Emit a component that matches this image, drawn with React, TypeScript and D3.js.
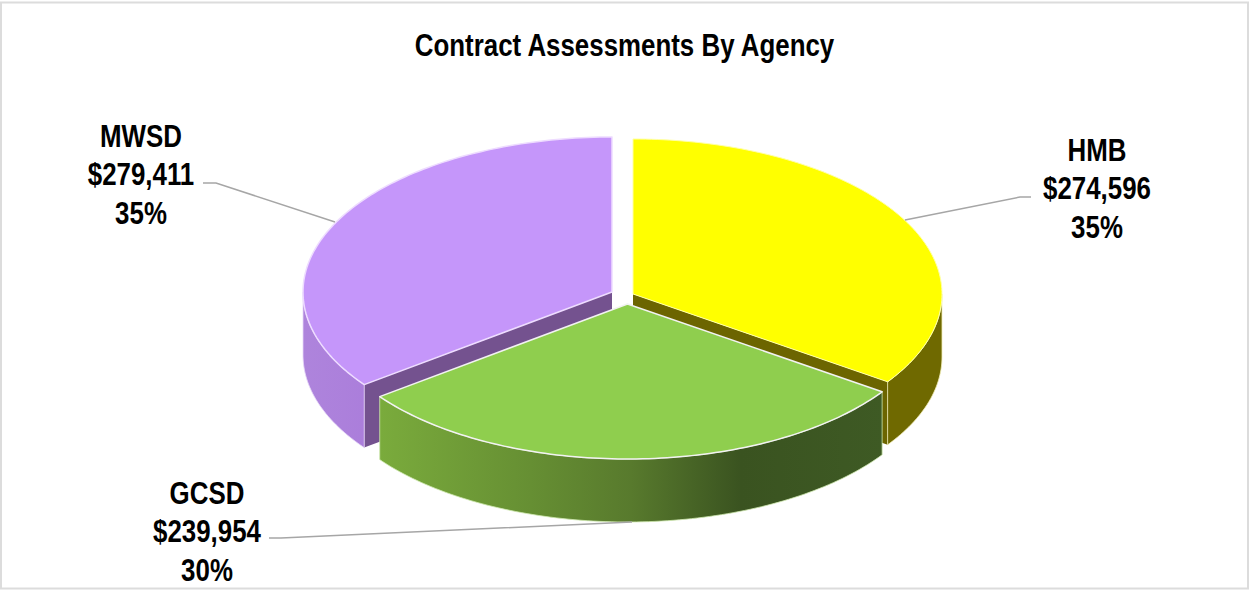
import React from "react";
import * as d3 from "d3";

const agencies = ["HMB", "GCSD", "MWSD"];
const assessments = [274596, 239954, 279411];
const amountLabels = ["$274,596", "$239,954", "$279,411"];
const percentLabels = ["35%", "30%", "35%"];

const W = 1250;
const H = 591;
const RX = 309;
const RY = 155;
const DEPTH = 63;
const FONT = "'Liberation Sans', Arial, sans-serif";
const FONT_SIZE = 31;
const NARROW = 0.835;

// Centre of each exploded wedge, in draw-space.
const wedgeCentres: Record<string, [number, number]> = {
  HMB: [633, 294],
  GCSD: [627.5, 304],
  MWSD: [612, 292],
};

const topFill: Record<string, string> = { HMB: "#ffff00", GCSD: "#8fce4e", MWSD: "#c596fa" };
const innerFill: Record<string, string> = { HMB: "#6c6500", GCSD: "#3e5a24", MWSD: "#74528f" };

// Leader lines: [label side start, elbow, wedge end]
const leaders: Record<string, [number, number][]> = {
  HMB: [[1031, 197], [1020, 197], [905, 220]],
  GCSD: [[269, 538], [281, 538], [632, 522]],
  MWSD: [[203, 183], [216, 183], [335, 222]],
};
const labelAnchors: Record<string, [number, number]> = {
  HMB: [1097, 150],
  GCSD: [207, 493],
  MWSD: [141, 136],
};
const LINE_GAP = 38.5;

const ptOn = (c: [number, number], a: number, dy = 0): [number, number] => [
  c[0] + RX * Math.sin(a),
  c[1] - RY * Math.cos(a) + dy,
];

function arcPoints(c: [number, number], a0: number, a1: number, dy = 0) {
  const steps = Math.max(2, Math.ceil(Math.abs(a1 - a0) / 0.02));
  return d3.range(steps + 1).map((i) => ptOn(c, a0 + ((a1 - a0) * i) / steps, dy));
}

const line = d3.line<[number, number]>();

// Condensed text: the installed bold sans is squeezed horizontally.
function NarrowText({ x, y, children }: { x: number; y: number; children: React.ReactNode }) {
  return (
    <text
      transform={`translate(${x},${y}) scale(${NARROW},1)`}
      dy="0.35em"
      textAnchor="middle"
      fontFamily={FONT}
      fontWeight={700}
      fontSize={FONT_SIZE}
      fill="#000"
    >
      {children}
    </text>
  );
}

export default function App() {
  const pie = d3
    .pie<number>()
    .sort(null)
    .startAngle(0)
    .endAngle(2 * Math.PI);
  const arcs = pie(assessments);
  const wedges = arcs.map((a, i) => ({
    name: agencies[i],
    start: a.startAngle,
    end: a.endAngle,
    c: wedgeCentres[agencies[i]],
  }));
  const [hmb, gcsd, mwsd] = wedges;

  const top = (w: typeof hmb) =>
    line([w.c, ...arcPoints(w.c, w.start, w.end)])! + "Z";

  // Curved outer wall between two angles.
  const wall = (w: typeof hmb, a0: number, a1: number) =>
    line([...arcPoints(w.c, a0, a1), ...arcPoints(w.c, a1, a0, DEPTH)])! + "Z";

  // Flat cut face running from the apex to the rim at angle a.
  const cut = (w: typeof hmb, a: number) => {
    const p = ptOn(w.c, a);
    return (
      line([
        w.c,
        p,
        [p[0], p[1] + DEPTH],
        [w.c[0], w.c[1] + DEPTH],
      ])! + "Z"
    );
  };

  const rimStroke = "#f2f2f2";

  return (
    <svg
      width={W}
      height={H}
      viewBox={`0 0 ${W} ${H}`}
      style={{ position: "absolute", left: 0, top: 0, display: "block" }}
    >
      <defs>
        <linearGradient id="greenWall" x1="0" x2="1" y1="0" y2="0">
          <stop offset="0" stopColor="#7aab3c" />
          <stop offset="0.3" stopColor="#668f33" />
          <stop offset="0.5" stopColor="#587a2d" />
          <stop offset="0.72" stopColor="#3a5320" />
          <stop offset="1" stopColor="#3e5a24" />
        </linearGradient>
        <linearGradient id="purpleWall" x1="0" x2="1" y1="0" y2="0">
          <stop offset="0" stopColor="#ae84dc" />
          <stop offset="1" stopColor="#ab7edb" />
        </linearGradient>
      </defs>

      <rect x={1} y={2.5} width={W - 3} height={H - 5} fill="#fff" stroke="#dcdcdc" strokeWidth={2} />

      {/* Back wedges' walls come first, the front wedge covers them */}
      <path d={cut(mwsd, mwsd.start)} fill={innerFill.MWSD} />
      <path d={wall(mwsd, mwsd.start, (3 * Math.PI) / 2)} fill="url(#purpleWall)" stroke="#e6d5f8" strokeWidth={0.8} />
      <path d={top(mwsd)} fill={topFill.MWSD} stroke="#eedcff" strokeWidth={1.5} strokeLinejoin="round" />

      <path d={cut(hmb, hmb.end)} fill={innerFill.HMB} />
      <path d={wall(hmb, Math.PI / 2, hmb.end)} fill="#6f6900" stroke="#f3efb8" strokeWidth={0.8} />
      <path d={top(hmb)} fill={topFill.HMB} stroke="#ffffa8" strokeWidth={1} strokeLinejoin="round" />

      <path d={wall(gcsd, gcsd.start, gcsd.end)} fill="url(#greenWall)" stroke="#cfe8b0" strokeWidth={0.8} />
      <path d={top(gcsd)} fill={topFill.GCSD} stroke={rimStroke} strokeWidth={1.5} strokeLinejoin="round" />

      {agencies.map((n) => (
        <path key={n} d={line(leaders[n])!} fill="none" stroke="#a6a6a6" strokeWidth={1.5} />
      ))}

      <NarrowText x={624.5} y={45}>Contract Assessments By Agency</NarrowText>
      {agencies.map((name, i) => {
        const [x, y] = labelAnchors[name];
        return [name, amountLabels[i], percentLabels[i]].map((t, j) => (
          <NarrowText key={name + j} x={x} y={y + j * LINE_GAP}>
            {t}
          </NarrowText>
        ));
      })}
    </svg>
  );
}
